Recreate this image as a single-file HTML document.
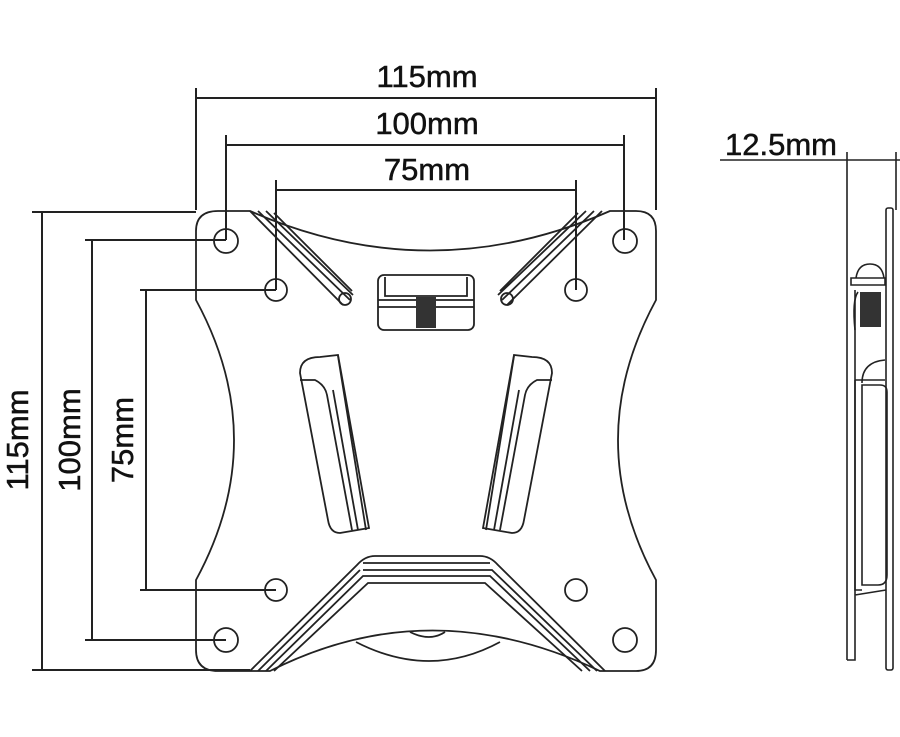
<!DOCTYPE html>
<html><head><style>
html,body{margin:0;padding:0;background:#fff;}
svg{display:block}
text{font-family:"Liberation Sans",sans-serif;font-size:31px;fill:#111;stroke:#111;stroke-width:0.5}
</style></head><body>
<svg width="900" height="737" viewBox="0 0 900 737" xmlns="http://www.w3.org/2000/svg">
<g fill="none" stroke="#222" stroke-width="2">
<path d="M196 88V210 M196 98H656 M656 88V210"/>
<path d="M226 135V240 M226 145H624 M624 135V240"/>
<path d="M276 180V290 M276 190H576 M576 180V290"/>
<path d="M32 212H196 M42 212V670 M32 670H250"/>
<path d="M85 240H226 M92 240V640 M85 640H226"/>
<path d="M140 290H276 M146 290V590 M140 590H276"/>
</g>
<text x="427" y="87" text-anchor="middle">115mm</text>
<text x="427" y="134" text-anchor="middle">100mm</text>
<text x="427" y="180" text-anchor="middle">75mm</text>
<text transform="translate(28,440) rotate(-90)" text-anchor="middle">115mm</text>
<text transform="translate(80,440) rotate(-90)" text-anchor="middle">100mm</text>
<text transform="translate(133,440) rotate(-90)" text-anchor="middle">75mm</text>
<text x="781" y="155" text-anchor="middle">12.5mm</text>

<g fill="none" stroke="#222" stroke-width="1.8">
<path d="M218 211 L250 211 Q430 290 610 211 L636 211 Q656 211 656 231 L656 300 Q580 440 656 580 L656 650 Q656 671 636 671 L600 671 Q430 590 270 671 L218 671 Q196 671 196 650 L196 580 Q272 440 196 300 L196 231 Q196 211 218 211 Z"/>
<circle cx="226" cy="241" r="12"/><circle cx="625" cy="241" r="12"/>
<circle cx="276" cy="290" r="11"/><circle cx="576" cy="290" r="11"/>
<circle cx="276" cy="590" r="11"/><circle cx="576" cy="590" r="11"/>
<circle cx="226" cy="640" r="12"/><circle cx="625" cy="640" r="12"/>
<path d="M250 211 L343 305 M258 211 L350 300 M266 211 L353 295 M274 213 L352 291"/>
<circle cx="345" cy="299" r="6"/>
<path d="M602 211 L507 305 M594 211 L502 300 M586 211 L498 295 M578 213 L500 291"/>
<circle cx="507" cy="299" r="6"/>
<rect x="378" y="275" width="96" height="55" rx="6"/>
<path d="M378 300H474 M378 307H474 M385 277V296 H467 V277"/>
<path d="M300 373 Q300 357 320 357 L338 355 L369 528 L340 533 Q330 533 328 520 Z"/>
<path d="M300 380 L315 380 Q325 385 327 395 L352 530 M333 390 L358 530 M338 356 L366 530"/>
<path d="M552 373 Q552 357 532 357 L514 355 L483 528 L512 533 Q522 533 524 520 Z"/>
<path d="M552 380 L537 380 Q527 385 525 395 L500 530 M519 390 L494 530 M514 356 L486 530"/>
<path d="M250 671 L357 565 Q365 556 375 556 L480 556 Q490 556 498 565 L605 671"/>
<path d="M258 671 L360 570 M266 671 L363 576 L490 576 L590 671 M274 671 L368 583 L485 583 L582 671"/>
<path d="M363 563 H490 M363 570 H492 L597 671"/>
<path d="M356 642 Q430 680 500 642"/>
<path d="M410 632 Q430 642 445 632"/>
</g>
<rect x="416" y="297" width="20" height="31" fill="#333"/>
<g fill="none" stroke="#222" stroke-width="1.6">
<path d="M720 160H900 M847 152V660 M896 152V210"/>
<rect x="886" y="208" width="7" height="462" rx="2"/>
<path d="M847 660H855 V290 M855 380 L885 380 M855 595 L886 590"/>
<path d="M855 380 V590 L862 590"/>
<path d="M862 383 Q862 362 885 360"/>
<path d="M851 285 H885 V278 H851 Z"/>
<path d="M856 278 Q858 264 870 264 Q882 264 884 278"/>
<path d="M858 292 Q852 300 855 330"/>
<path d="M862 385 H880 Q887 385 887 392 V575 Q887 585 878 585 H862 Z"/>
</g>
<rect x="860" y="292" width="21" height="35" fill="#333"/>
</svg>
</body></html>
